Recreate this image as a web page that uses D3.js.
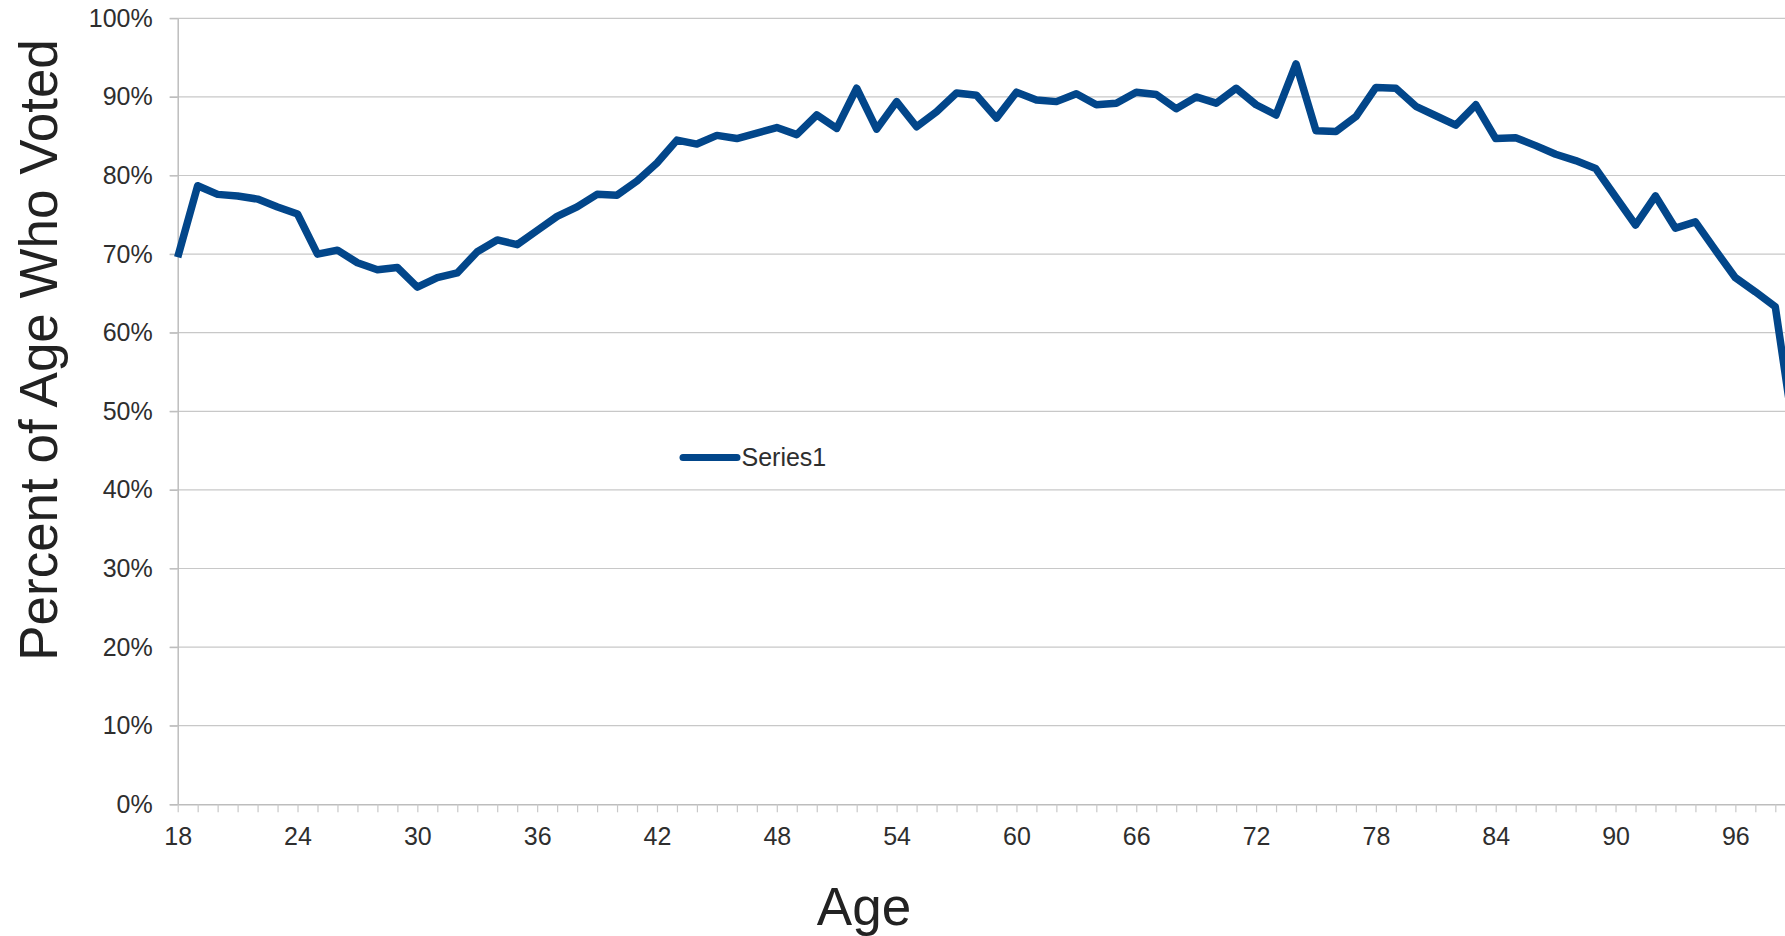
<!DOCTYPE html>
<html>
<head>
<meta charset="utf-8">
<script src="https://cdn.jsdelivr.net/npm/d3@7/dist/d3.min.js"></script>
<style>
  html, body { margin: 0; padding: 0; background: #fff; overflow: hidden; }
  svg { display: block; font-family: "Liberation Sans", Arial, sans-serif; }
</style>
</head>
<body>
<svg id="chart" width="1785" height="936"></svg>
<script>
// ---- data ----
const ages = [18,19,20,21,22,23,24,25,26,27,28,29,30,31,32,33,34,35,36,37,38,39,40,41,42,43,44,45,46,47,48,49,50,51,52,53,54,55,56,57,58,59,60,61,62,63,64,65,66,67,68,69,70,71,72,73,74,75,76,77,78,79,80,81,82,83,84,85,86,87,88,89,90,91,92,93,94,95,96,97,98,99];
const percentVoted = [69.6,78.7,77.6,77.4,77.0,76.0,75.1,70.0,70.5,68.9,68.0,68.3,65.8,67.0,67.6,70.3,71.8,71.2,73.0,74.8,76.0,77.6,77.5,79.3,81.6,84.5,84.0,85.1,84.7,85.4,86.1,85.2,87.7,86.0,91.1,85.9,89.4,86.2,88.1,90.5,90.2,87.3,90.6,89.6,89.4,90.4,89.0,89.2,90.6,90.3,88.5,90.0,89.2,91.1,89.0,87.7,94.2,85.7,85.6,87.5,91.2,91.1,88.8,87.6,86.4,89.0,84.7,84.8,83.8,82.7,81.9,80.9,77.3,73.7,77.4,73.3,74.1,70.5,67.0,65.2,63.3,46.0];
const xTickLabels = [18,24,30,36,42,48,54,60,66,72,78,84,90,96];
const yTickValues = [0,0.1,0.2,0.3,0.4,0.5,0.6,0.7,0.8,0.9,1.0];
const seriesName = "Series1";
const xTitle = "Age";
const yTitle = "Percent of Age Who Voted";

// ---- layout ----
const svg = d3.select("#chart");
const plotLeft = 177.7, perYear = 19.97;
const plotRight = plotLeft + (ages[ages.length-1] - ages[0]) * perYear;
const plotTop = 18.3, plotBottom = 804.3;
const lineColor = "#02468a";
const textColor = "#2e2e2e";
const fontFam = '"Liberation Sans", Arial, sans-serif';

const x = d3.scaleLinear().domain([ages[0], ages[ages.length-1]]).range([plotLeft, plotRight]);
const y = d3.scaleLinear().domain([0, 1]).range([plotBottom, plotTop]);

svg.append("rect").attr("width",1785).attr("height",936).attr("fill","#fff");

// gridlines
svg.append("g").selectAll("line")
  .data(yTickValues.filter(v => v > 0))
  .join("line")
  .attr("x1", plotLeft - 8).attr("x2", plotRight)
  .attr("y1", d => y(d)).attr("y2", d => y(d))
  .attr("stroke", "#c8c8c8").attr("stroke-width", 1.2);

// y axis
const yAxis = svg.append("g").attr("transform", `translate(${plotLeft},0)`)
  .call(d3.axisLeft(y).tickValues(yTickValues).tickFormat(d3.format(".0%")).tickSize(8).tickSizeOuter(0).tickPadding(17));
yAxis.select(".domain").attr("stroke", "#bdbdbd").attr("stroke-width", 1.5);
yAxis.selectAll(".tick line").attr("stroke", "#bdbdbd").attr("stroke-width", 1.2);
yAxis.selectAll("text").attr("font-size", 25).attr("fill", textColor).attr("font-family", fontFam);

// x axis: minor ticks every year, labels every 6
const xAxis = svg.append("g").attr("transform", `translate(0,${plotBottom})`)
  .call(d3.axisBottom(x).tickValues(ages).tickSize(8).tickSizeOuter(0)
    .tickFormat(d => xTickLabels.includes(d) ? d : ""));
xAxis.select(".domain").attr("stroke", "#bdbdbd").attr("stroke-width", 1.5).attr("d", `M${plotLeft - 8},0.5H${plotRight}`);
xAxis.selectAll(".tick line").attr("stroke", "#c8c8c8").attr("stroke-width", 1.2);
xAxis.selectAll("text").attr("font-size", 25).attr("fill", textColor).attr("dy", 0)
  .attr("y", 41).attr("font-family", fontFam);

// series line
const line = d3.line().x((d, i) => x(ages[i])).y(d => y(d / 100));
svg.append("path")
  .datum(percentVoted)
  .attr("d", line)
  .attr("fill", "none")
  .attr("stroke", lineColor)
  .attr("stroke-width", 7.5)
  .attr("stroke-linejoin", "round")
  .attr("stroke-linecap", "butt");

// legend
const lg = svg.append("g");
lg.append("line").attr("x1", 683).attr("x2", 737).attr("y1", 457.5).attr("y2", 457.5)
  .attr("stroke", lineColor).attr("stroke-width", 7).attr("stroke-linecap", "round");
lg.append("text").attr("x", 741.5).attr("y", 466).attr("font-size", 25).attr("fill", textColor)
  .attr("font-family", fontFam).text(seriesName);

// axis titles
svg.append("text").attr("x", 864).attr("y", 925).attr("text-anchor", "middle")
  .attr("font-size", 53).attr("fill", "#222").attr("font-family", fontFam).text(xTitle);
svg.append("text").attr("transform", "translate(57,350) rotate(-90)").attr("text-anchor", "middle")
  .attr("font-size", 53).attr("fill", "#222").attr("font-family", fontFam).text(yTitle);
</script>
</body>
</html>
